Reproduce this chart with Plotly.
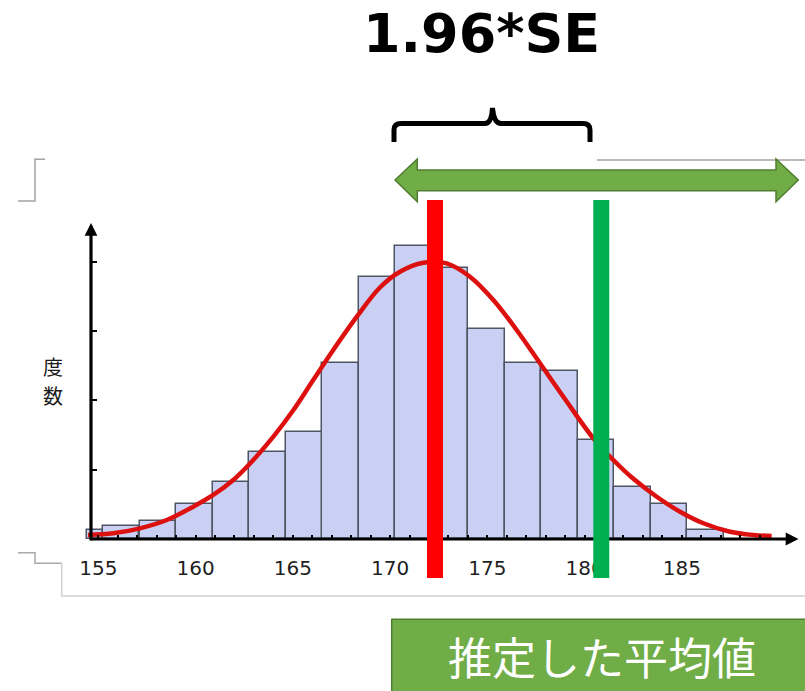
import plotly.graph_objects as go

# ---------------- data ----------------
bin_centers = [154.82, 156.17, 158.06, 159.94, 161.83, 163.71, 165.59, 167.46, 169.33,
               171.20, 173.08, 174.95, 176.83, 178.71, 180.59, 182.47, 184.35, 186.22]
bin_counts = [1.30, 1.88, 2.64, 5.05, 8.18, 12.51, 15.44, 25.44, 37.76,
              42.28, 39.06, 30.30, 25.44, 24.24, 14.29, 7.46, 5.01, 1.30]
bin_widths = [0.81, 1.876, 1.876, 1.876, 1.876, 1.876, 1.876, 1.876, 1.876,
              1.876, 1.876, 1.876, 1.876, 1.876, 1.876, 1.876, 1.876, 1.876]

curve_x = [154.47, 155.77, 157.14, 158.52, 159.88, 160.91, 161.94, 162.97, 164.00,
           165.03, 166.05, 167.08, 168.29, 169.48, 170.51, 171.71, 172.91, 174.11,
           175.31, 176.51, 177.71, 178.91, 180.45, 181.48, 182.48, 183.71, 184.91,
           186.11, 187.48, 188.68, 189.62]
curve_y = [0.58, 0.82, 1.54, 2.74, 4.66, 6.35, 8.51, 11.40, 14.76,
           18.61, 22.94, 27.27, 32.08, 36.29, 38.57, 39.87, 39.78, 37.85,
           34.49, 30.16, 25.35, 20.53, 14.53, 11.40, 8.76, 6.10, 3.94,
           2.27, 1.05, 0.58, 0.43]

x_tick_vals = [155, 160, 165, 170, 175, 180, 185]
x_tick_text = ["155", "160", "165", "170", "175", "180", "185"]
x_minor_vals = [156, 157, 158, 159, 161, 162, 163, 164, 166, 167, 168, 169, 171, 172,
                173, 174, 176, 177, 178, 179, 181, 182, 183, 184, 186, 187, 188, 189]
y_tick_vals = [10, 20, 30, 40]

estimated_mean = 172.31
upper_limit = 180.86

title_text = "1.96*SE"
y_label_chars = ["度", "数"]
box_label = "推定した平均値"

# ---------------- geometry helpers (pixel -> paper) ----------------
W, H = 805, 691


def px(x):
    return x / W


def py(y):
    return (H - y) / H


def path(points, close=False):
    s = "M " + " L ".join(f"{px(a):.5f},{py(b):.5f}" for a, b in points)
    return s + (" Z" if close else "")


def P(a, b):
    return f"{px(a):.5f},{py(b):.5f}"


fig = go.Figure()

fig.add_trace(go.Bar(
    x=bin_centers, y=bin_counts, width=bin_widths,
    marker=dict(color="#C9D0F3", line=dict(color="#4E5563", width=1.5)),
    hoverinfo="skip", showlegend=False,
))

fig.add_trace(go.Scatter(
    x=curve_x, y=curve_y, mode="lines",
    line=dict(color="#DD1010", width=4.5, shape="spline", smoothing=1.0),
    hoverinfo="skip", showlegend=False,
))

shapes = []
# axis lines
shapes.append(dict(type="line", xref="paper", yref="paper",
                   x0=px(91), y0=py(539), x1=px(788), y1=py(539),
                   line=dict(color="black", width=3.2)))
shapes.append(dict(type="line", xref="paper", yref="paper",
                   x0=px(91), y0=py(540.5), x1=px(91), y1=py(233),
                   line=dict(color="black", width=3.2)))
# red and green vertical markers (data x)
shapes.append(dict(type="line", xref="x", yref="y",
                   x0=estimated_mean, x1=estimated_mean, y0=-5.63, y1=48.92,
                   line=dict(color="#FF0000", width=16)))
shapes.append(dict(type="line", xref="x", yref="y",
                   x0=upper_limit, x1=upper_limit, y0=-5.63, y1=48.92,
                   line=dict(color="#00B050", width=16)))
# gray frame fragments
shapes.append(dict(type="path", xref="paper", yref="paper",
                   path=path([(45, 159.3), (35, 159.3), (35, 201), (18, 201)]),
                   line=dict(color="#A3A3A3", width=1.5)))
shapes.append(dict(type="path", xref="paper", yref="paper",
                   path=path([(597, 160), (805, 160)]),
                   line=dict(color="#A3A3A3", width=1.5)))
shapes.append(dict(type="path", xref="paper", yref="paper",
                   path=path([(18, 552.7), (35, 552.7), (35, 563.3), (61.7, 563.3)]),
                   line=dict(color="#A8A8A8", width=1.5)))
shapes.append(dict(type="path", xref="paper", yref="paper",
                   path=path([(61.7, 563.3), (61.7, 596), (805, 596)]),
                   line=dict(color="#D0D0D0", width=1.5)))
# green double arrow
shapes.append(dict(type="path", xref="paper", yref="paper",
                   path=path([(395, 180), (417.3, 159), (417.3, 170), (776, 170),
                              (776, 159), (798.3, 180), (776, 201.7), (776, 190.7),
                              (417.3, 190.7), (417.3, 201.7)], close=True),
                   fillcolor="#70AD47", line=dict(color="#507E32", width=1.5)))
# curly brace
brace = (f"M {P(394, 142)} L {P(394, 130)} Q {P(394, 123.5)} {P(401, 123.5)} "
         f"L {P(485, 123.5)} Q {P(491.5, 123.5)} {P(492.5, 108)} "
         f"Q {P(494, 123.5)} {P(501, 123.5)} L {P(583, 123.5)} "
         f"Q {P(590, 123.5)} {P(590, 130)} L {P(590, 142)}")
shapes.append(dict(type="path", xref="paper", yref="paper", path=brace,
                   line=dict(color="black", width=5)))
# bottom label box
shapes.append(dict(type="rect", xref="paper", yref="paper",
                   x0=px(391.7), y0=py(693), x1=px(808), y1=py(619.3),
                   fillcolor="#70AD47", line=dict(color="#507E32", width=1.5)))

annotations = [
    dict(xref="paper", yref="paper", x=px(798.5), y=py(539), ax=-14, ay=0,
         text="", showarrow=True, arrowhead=2, arrowsize=0.8, arrowwidth=3.2,
         arrowcolor="black"),
    dict(xref="paper", yref="paper", x=px(91), y=py(223), ax=0, ay=14,
         text="", showarrow=True, arrowhead=2, arrowsize=0.8, arrowwidth=3.2,
         arrowcolor="black"),
    dict(xref="paper", yref="paper", x=px(481), y=py(33), text=f"<b>{title_text}</b>",
         showarrow=False, xanchor="center", yanchor="middle",
         font=dict(family="DejaVu Sans", size=54, color="black")),
    dict(xref="paper", yref="paper", x=px(601.5), y=py(656), text=box_label,
         showarrow=False, xanchor="center", yanchor="middle",
         font=dict(family="Noto Sans CJK JP", size=44, color="white")),
]
for i, ch in enumerate(y_label_chars):
    annotations.append(dict(
        xref="paper", yref="paper", x=px(53), y=py(366.5 + 29 * i), text=ch,
        showarrow=False, xanchor="center", yanchor="middle",
        font=dict(family="Noto Sans CJK JP", size=20, color="#1A1A1A")))

fig.update_layout(
    width=W, height=H,
    margin=dict(l=0, r=0, t=0, b=0, pad=0),
    paper_bgcolor="white", plot_bgcolor="white",
    showlegend=False, hovermode=False, bargap=0,
    shapes=shapes, annotations=annotations,
    xaxis=dict(
        range=[149.946, 191.334], anchor="free", position=(H - 539) / H,
        showgrid=False, zeroline=False, showline=False, automargin=False,
        tickmode="array", tickvals=x_tick_vals, ticktext=x_tick_text,
        ticks="inside", ticklen=4, tickwidth=2, tickcolor="black",
        ticklabelstandoff=15,
        tickfont=dict(family="DejaVu Sans", size=20, color="#1F1F1F"),
        minor=dict(tickmode="array", tickvals=x_minor_vals, ticks="inside",
                   ticklen=4, tickwidth=1.5, tickcolor="black", showgrid=False),
        fixedrange=True,
    ),
    yaxis=dict(
        range=[-(H - 539) / 6.93, 539 / 6.93], anchor="free", position=91 / W,
        showgrid=False, zeroline=False, showline=False, automargin=False,
        tickmode="array", tickvals=y_tick_vals, showticklabels=False,
        ticks="inside", ticklen=5, tickwidth=1.5, tickcolor="black",
        fixedrange=True,
    ),
)

fig.write_html("out.html", config={"displayModeBar": False},
               post_script="document.body.style.margin='0px';")
